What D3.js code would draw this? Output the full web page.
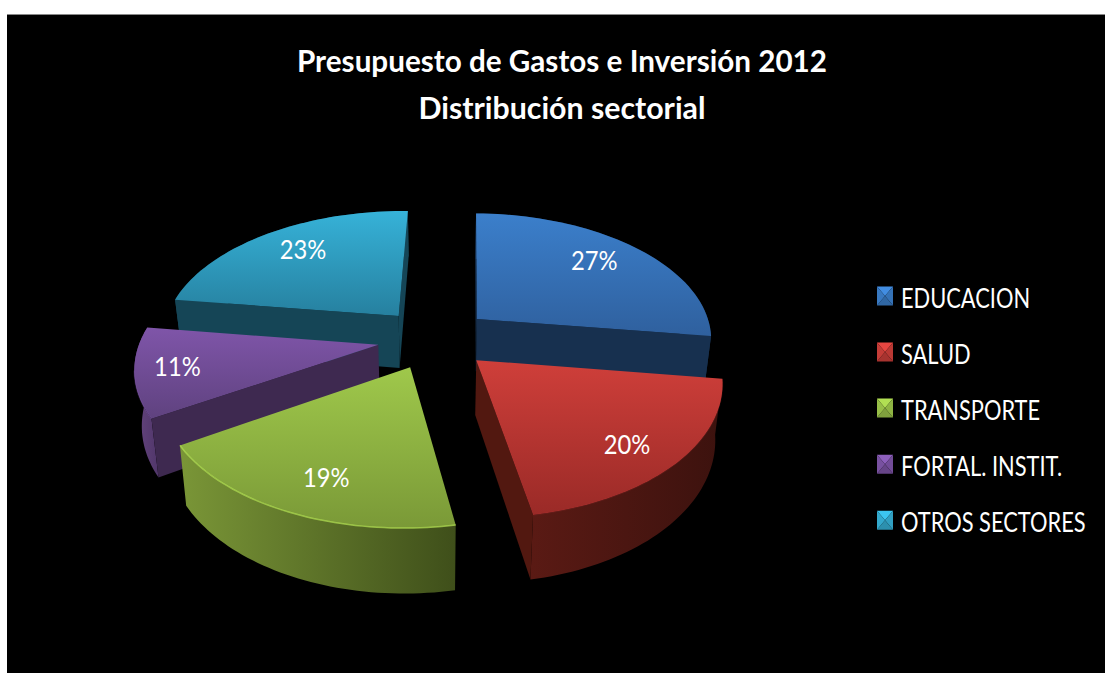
<!DOCTYPE html>
<html>
<head>
<meta charset="utf-8">
<script src="https://cdn.jsdelivr.net/npm/d3@7"></script>
<style>
html, body { margin: 0; padding: 0; background: #fff; overflow: hidden; }
text { font-family: Lato, "Open Sans", sans-serif; fill: #fff; }
</style>
</head>
<body>
<svg id="chart" width="1105" height="673"></svg>
<script>
// Budget shares by sector, 2012
const categories = ["EDUCACION", "SALUD", "TRANSPORTE", "FORTAL. INSTIT.", "OTROS SECTORES"];
const shares = [27, 20, 19, 11, 23];
const titleLines = ["Presupuesto de Gastos e Inversión 2012", "Distribución sectorial"];

// Colour ramps per sector
const faceTop = ["#3b7fcb", "#cf3f3a", "#9fc84b", "#7f55a9", "#36b2d8"];
const faceBottom = ["#2f609e", "#9a2a27", "#7a9937", "#5f427f", "#26809f"];
const radialWall = ["#17304f", "#521810", "#55681f", "#3e2950", "#154556"];
const rimLeft = ["#17304f", "#5a1a14", "#7a9637", "#66457f", "#154556"];
const rimRight = ["#17304f", "#3c120e", "#3f4f1a", "#50366a", "#154556"];
const bevelOpacity = [0, 0.1, 0.75, 0.25, 0];

// Per-slice fine placement of the value labels, in pixels
const labelNudgeX = [-5, 3, 5, -17, 6];
const labelNudgeY = [-4, 7, 3.5, 0, -3];

const svg = d3.select("#chart");
const defs = svg.append("defs");

// Canvas
svg.append("rect").attr("x", 7).attr("y", 14).attr("width", 1098).attr("height", 659).attr("fill", "#000");
svg.append("line").attr("x1", 7).attr("x2", 1105).attr("y1", 14.5).attr("y2", 14.5).attr("stroke", "#888");

// Perspective projection of the tilted pie: unit disc coordinates to the screen
const view = { cx: 434.5, cy: 338.5, rx: 237, ry: 127, persp: 0.15, shear: -4.5, roll: 1.5, depth: 53.5, taper: 0.975, explode: 0.24 };
function project(u, v, lower) {
  const s = 1 / (1 - view.persp * v);
  const x = view.rx * u * s;
  const y = view.ry * v * s + view.roll * u;
  const lean = view.shear * v;
  return lower
    ? [view.cx + lean + x * view.taper, view.cy + y + view.depth * s]
    : [view.cx + lean + x, view.cy + y];
}

const pie = d3.pie().sort(null).value(d => d);
const arcs = pie(shares);
const line = d3.line();

// Samples a slice's outer edge as unit disc points
function rimPoints(a) {
  return d3.range(0, 49).map(i => {
    const t = a.startAngle + (a.endAngle - a.startAngle) * i / 48;
    return [a.ox + Math.sin(t), a.oy - Math.cos(t)];
  });
}
arcs.forEach(a => {
  const mid = (a.startAngle + a.endAngle) / 2;
  a.mid = mid;
  a.ox = view.explode * Math.sin(mid);
  a.oy = -view.explode * Math.cos(mid);
});

const gradient = (id, x2, y2, c0, c1) => {
  const g = defs.append("linearGradient").attr("id", id)
    .attr("x1", 0).attr("y1", 0).attr("x2", x2).attr("y2", y2);
  g.append("stop").attr("offset", 0).attr("stop-color", c0);
  g.append("stop").attr("offset", 1).attr("stop-color", c1);
};
arcs.forEach((a, i) => {
  gradient("face" + i, 0, 1, faceTop[i], faceBottom[i]);
  gradient("rim" + i, 1, 0, rimLeft[i], rimRight[i]);
});

// Far slices first, so that nearer ones cover them
const drawOrder = [4, 0, 3, 1, 2];
const pieGroup = svg.append("g");
drawOrder.forEach(i => {
  const a = arcs[i];
  const rim = rimPoints(a);
  const top = rim.map(p => project(p[0], p[1], false));
  const bottom = rim.map(p => project(p[0], p[1], true));
  const apexTop = project(a.ox, a.oy, false);
  const apexBottom = project(a.ox, a.oy, true);
  const g = pieGroup.append("g");

  // Outer curved wall
  g.append("path")
    .attr("d", line(top.concat(bottom.slice().reverse())) + "Z")
    .attr("fill", `url(#rim${i})`);

  // Walls along the two straight edges; only those turned towards the viewer
  [[top[0], bottom[0], 1], [top[48], bottom[48], -1]].forEach(([t, b, facing]) => {
    const quad = [apexTop, t, b, apexBottom];
    if (d3.polygonArea(quad) * facing > 0) {
      g.append("path").attr("d", line(quad) + "Z").attr("fill", radialWall[i]);
    }
  });

  // Top face
  g.append("path")
    .attr("d", line([apexTop].concat(top)) + "Z")
    .attr("fill", `url(#face${i})`);

  // Light bevel along the near part of the rim
  const near = top.filter((p, k) => rim[k][1] > 0.25);
  if (near.length > 1 && bevelOpacity[i] > 0) {
    g.append("path").attr("d", line(near)).attr("fill", "none")
      .attr("stroke", d3.color(faceTop[i]).brighter(0.3))
      .attr("stroke-opacity", bevelOpacity[i]).attr("stroke-width", 1.5);
  }
});

// Value labels
const labelRadius = 0.76;
arcs.forEach((a, i) => {
  const [x, y] = project(a.ox + labelRadius * Math.sin(a.mid), a.oy - labelRadius * Math.cos(a.mid), false);
  svg.append("text")
    .attr("transform", `translate(${x + labelNudgeX[i]},${y + labelNudgeY[i]}) scale(0.88,1)`)
    .attr("text-anchor", "middle").attr("dominant-baseline", "central")
    .attr("font-size", 27).text(shares[i] + "%");
});

// Title
svg.selectAll("text.title").data(titleLines).join("text").attr("class", "title")
  .attr("x", 562).attr("y", (d, i) => 72 + i * 47)
  .attr("text-anchor", "middle").attr("font-weight", 700).attr("font-size", 30)
  .attr("textLength", (d, i) => [530, 287][i]).attr("lengthAdjust", "spacingAndGlyphs")
  .text(d => d);

// Legend with bevelled swatches
const legendY = d3.scalePoint().domain(categories).range([297.5, 521.7]);
const swW = 8, swH = 9.5;
categories.forEach((c, i) => {
  const y = legendY(c);
  const g = svg.append("g").attr("transform", `translate(885,${y - 1.5})`);
  const base = d3.color(faceTop[i]);
  const tris = [
    [[-swW, -swH], [swW, -swH], base.brighter(0.3)],
    [[swW, -swH], [swW, swH], base.darker(0.3)],
    [[swW, swH], [-swW, swH], base.darker(0.6)],
    [[-swW, swH], [-swW, -swH], base.darker(0.15)]
  ];
  tris.forEach(([p, q, col]) => {
    g.append("path").attr("d", line([[0, 0], p, q]) + "Z").attr("fill", col);
  });
  svg.append("text").attr("transform", `translate(901,${y}) scale(0.84,1)`)
    .attr("dominant-baseline", "central")
    .attr("font-size", 26).text(c);
});
</script>
</body>
</html>
